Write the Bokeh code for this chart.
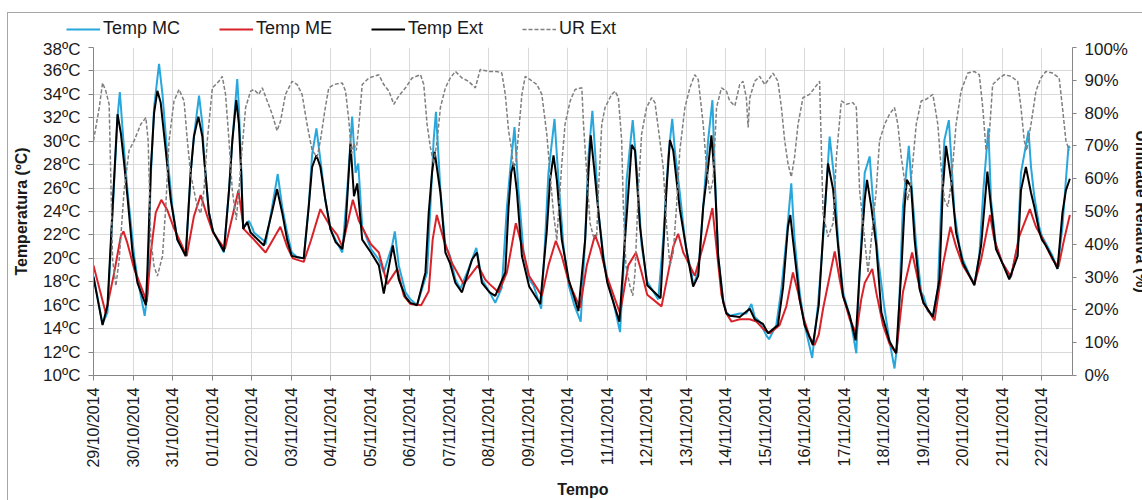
import math
from datetime import datetime, timedelta

from bokeh.plotting import figure
from bokeh.models import (Range1d, LinearAxis, FixedTicker, DatetimeTickFormatter,
                          PrintfTickFormatter, Legend, LegendItem)
from bokeh.embed import file_html
from bokeh.resources import INLINE

# ---- data: hours elapsed since 29/10/2014 00:00 and readings ----
START = datetime(2014, 10, 29)
END_HOURS = 594.6

mc_hours = [0, 5.5, 8.5, 11.6, 14.6, 16.0, 18.6, 20.6, 24.7,
            26.7, 31.1, 32.8, 34.8, 36.8, 39.8, 41.9, 44.9, 47.9,
            50.9, 55.0, 56.0, 59.0, 61.0, 64.1, 66.1, 67.1, 70.1, 72.6,
            75.2, 79.2, 82.3, 84.3, 87.3, 88.3, 89.7, 90.9, 94.4, 96.8,
            97.4, 103.5, 104.5, 108.5, 111.9, 114.6, 117.6, 120.4,
            123.7, 127.7, 130.7, 132.8, 135.4, 137.8, 140.8, 143.9,
            147.0, 151.1, 154.1, 157.1, 159.2, 160.8, 163.2, 168.5,
            173.3, 176.3, 181.4, 183.0, 185.4, 189.5, 192.5,
            196.5, 202.6, 204.6, 206.6, 208.0, 210.7, 213.7, 216.5,
            219.8, 222.8, 227.8, 232.5, 235.9, 240.6,
            244.0, 248.0, 251.1, 253.1, 255.7, 258.1, 261.2, 264.6,
            267.2, 271.9, 274.3, 276.3, 280.0, 282.4, 285.4, 288.6,
            292.0, 295.9, 298.6, 300.6, 303.0, 304.6, 306.7, 309.7, 312.1,
            315.7, 319.8, 321.8, 323.8, 327.5, 329.9, 332.9, 336.3,
            343.0, 346.0, 349.1, 351.5, 353.1, 356.1, 359.2, 360.4,
            363.2, 364.2, 367.3, 370.3, 373.3, 375.9, 377.4, 379.4, 382.4, 384.4,
            386.4, 392.5, 396.5, 399.6, 401.6, 404.6, 408.7, 410.3,
            414.7, 417.8, 420.8, 423.8, 425.8, 428.9, 431.9, 433.9, 436.5,
            440.0, 443.1, 447.1, 450.2, 452.2, 455.2, 459.3, 463.3,
            465.3, 468.4, 471.4, 473.4, 476.4, 480.1, 483.5, 486.5,
            488.5, 491.6, 495.2, 496.6, 499.7, 502.7, 504.1,
            506.7, 509.8, 512.8, 514.8, 516.8, 519.5, 520.9, 522.9, 525.9, 528.0,
            532.0, 535.0, 538.0, 540.5, 543.5, 545.1, 548.1, 552.0,
            554.2, 557.2, 561.3, 563.3, 567.9, 569.4, 571.4, 574.4, 576.0,
            578.4, 582.5, 585.5, 588.5, 590.6, 592.2, 593.0]
mc_temp = [18.5, 14.4, 15.4, 23.9, 32.1, 34.2, 29.2, 25.9, 20.2,
           18.3, 15.1, 17.0, 27.0, 32.9, 36.6, 34.0, 28.7, 24.4,
           21.6, 20.5, 20.2, 27.3, 30.4, 33.9, 31.5, 28.7, 23.9, 22.3,
           21.6, 20.5, 25.8, 30.0, 35.3, 32.9, 27.8, 22.7, 23.2, 22.5,
           22.2, 21.5, 21.2, 24.4, 27.2, 24.4, 22.2, 20.5,
           20.1, 20.0, 24.4, 28.9, 31.1, 28.4, 25.0, 22.5,
           21.6, 20.5, 25.8, 32.1, 27.3, 28.1, 22.7, 20.8,
           19.9, 18.8, 21.1, 22.3, 19.4, 17.1, 16.5,
           16.0, 18.8, 24.4, 30.1, 32.5, 25.8, 21.1, 20.2,
           18.2, 17.4, 19.1, 20.9, 18.2, 17.1,
           16.2, 17.5, 24.4, 27.6, 31.2, 25.8, 20.5, 18.2,
           17.7, 15.7, 21.6, 27.3, 31.9, 26.7, 21.1, 17.7,
           16.0, 14.6, 21.6, 28.7, 32.6, 29.2, 23.9, 20.2, 18.2,
           16.3, 13.7, 18.8, 26.7, 31.8, 27.8, 21.1, 18.0,
           16.5, 21.6, 28.7, 31.9, 29.2, 25.6, 21.6, 20.5,
           18.8, 17.7, 18.8, 24.4, 30.1, 33.5, 27.3, 20.2, 16.5, 15.4,
           15.1, 15.3, 15.3, 16.1, 15.0, 14.6, 13.4, 13.1,
           14.3, 17.4, 21.6, 26.4, 21.6, 17.1, 14.3, 13.1, 11.5,
           16.0, 21.6, 30.4, 26.4, 21.6, 17.1, 15.1, 11.9,
           18.8, 27.3, 28.7, 25.0, 20.2, 16.0, 12.9, 10.6,
           13.1, 24.4, 29.6, 26.7, 21.1, 17.1, 16.8,
           15.5, 15.1, 17.4, 24.4, 30.1, 31.8, 28.7, 23.9, 21.1, 19.9,
           18.6, 17.8, 20.2, 25.9, 31.1, 25.0, 21.1, 19.6,
           19.1, 18.4, 21.1, 27.3, 30.9, 27.8, 25.3, 22.7, 21.9,
           21.3, 20.2, 19.1, 22.7, 26.7, 29.6, 29.4]

me_hours = [0, 7.5, 12.6, 16.6, 18.2, 20.6, 24.7,
            32.4, 34.8, 37.8, 41.2, 44.9, 48.5,
            56.6, 61.0, 65.1, 69.1, 72.6,
            79.8, 88.0, 91.3, 96.8,
            104.5, 113.5, 117.6, 121.0,
            127.7, 132.0, 137.8, 144.0, 148.0,
            151.1, 157.5, 161.2, 168.5,
            173.3, 178.4, 184.5, 188.5, 192.5,
            199.0, 203.6, 206.0, 208.5, 212.7, 217.7,
            224.8, 233.5, 237.9, 240.6,
            246.0, 251.1, 256.5, 260.2, 264.6,
            272.3, 276.3, 280.8, 284.4, 288.6,
            295.5, 299.6, 304.6, 307.7, 311.7,
            319.8, 324.8, 329.5, 332.9, 336.3,
            345.0, 349.1, 352.1, 355.1, 358.2, 360.4,
            365.2, 371.3, 375.9, 378.4, 381.4, 384.4,
            387.5, 392.5, 398.6, 402.6, 406.6, 410.7,
            416.7, 420.8, 424.8, 427.9, 430.9, 434.9, 437.9,
            440.5, 443.1, 450.2, 453.2, 455.2, 459.3, 463.3,
            466.3, 468.4, 473.0, 475.4, 479.5, 483.5, 487.5,
            491.6, 497.2, 500.7, 504.1,
            510.8, 515.8, 520.5, 523.9, 528.0,
            535.0, 539.1, 544.5, 547.1, 552.0,
            557.2, 562.3, 568.7, 572.4, 576.0,
            582.5, 586.1, 589.5, 593.0]
me_temp = [19.4, 15.3, 18.8, 21.9, 22.3, 21.3, 19.1,
           16.3, 20.5, 23.9, 25.0, 24.1, 22.7,
           20.2, 23.6, 25.4, 23.6, 22.2,
           20.8, 25.8, 22.5, 21.7,
           20.5, 22.7, 21.0, 20.0,
           19.7, 21.5, 24.2, 22.7, 22.0,
           21.0, 25.0, 23.2, 21.2,
           20.5, 17.8, 19.1, 16.8, 16.1,
           16.0, 17.2, 21.6, 23.7, 21.6, 19.6,
           17.8, 19.4, 18.2, 17.8,
           17.1, 18.8, 23.0, 21.1, 18.5,
           16.8, 19.4, 21.5, 20.2, 18.0,
           15.8, 19.4, 22.0, 20.8, 18.5,
           15.3, 19.4, 20.5, 18.8, 16.9,
           15.9, 18.8, 21.0, 22.1, 20.5, 19.9,
           18.5, 21.6, 24.3, 20.9, 16.9, 15.3,
           14.6, 14.8, 14.8, 14.6, 14.0, 13.6,
           14.3, 15.9, 18.8, 17.1, 15.1, 13.3, 12.6,
           13.5, 15.7, 20.6, 18.2, 16.8, 14.8, 13.6,
           16.5, 17.9, 19.1, 17.1, 14.3, 12.7, 11.9,
           17.1, 20.5, 18.2, 16.2,
           14.7, 19.4, 22.7, 21.0, 19.4,
           17.8, 19.9, 23.7, 21.6, 19.6,
           18.4, 21.9, 24.2, 22.7, 21.8,
           19.9, 19.3, 21.6, 23.7]

ext_hours = [0, 5.5, 8.5, 12.6, 14.6, 16.6, 18.6, 20.6, 23.7,
             26.7, 31.8, 32.8, 34.8, 36.8, 38.8, 40.8, 43.9, 46.9,
             50.9, 56.0, 59.0, 61.0, 63.7, 66.1, 67.1, 70.1, 72.6,
             79.2, 82.3, 84.3, 86.7, 88.3, 89.7, 90.9, 93.4, 95.4,
             103.5, 108.5, 111.5, 114.6, 117.6, 120.4,
             127.7, 130.7, 132.8, 135.4, 137.8, 140.8, 143.9,
             147.0, 151.1, 153.1, 156.1, 158.2, 160.2, 163.2, 168.5,
             173.3, 176.3, 181.8, 185.4, 189.5, 192.5,
             196.5, 201.6, 203.6, 205.6, 207.2, 210.7, 213.7, 216.5,
             219.8, 223.8, 229.9, 232.9, 235.9, 240.6,
             244.0, 250.1, 252.1, 253.7, 255.1, 257.1, 260.2, 264.6,
             271.3, 275.3, 277.3, 279.4, 281.4, 284.4, 288.6,
             294.5, 298.6, 300.6, 302.0, 304.0, 306.7, 309.7, 312.1,
             319.4, 322.8, 326.9, 328.9, 331.9, 336.3,
             344.4, 348.1, 350.1, 352.1, 356.1, 360.4,
             364.2, 367.3, 370.3, 373.3, 375.3, 377.4, 379.4, 382.4, 384.4,
             386.4, 392.5, 398.6, 401.6, 406.6, 409.7,
             415.7, 418.8, 421.8, 423.2, 424.8, 428.9, 431.9, 436.9,
             440.5, 443.1, 446.1, 449.2, 452.2, 455.2, 459.3, 462.9,
             465.3, 468.4, 469.8, 472.4, 475.4, 478.5, 483.5, 487.5,
             490.6, 492.6, 494.0, 496.6, 498.7, 501.7, 504.1,
             509.8, 513.8, 515.8, 517.8, 520.9, 523.9, 528.0,
             535.0, 539.1, 541.1, 542.9, 545.1, 548.1, 552.0,
             556.2, 561.3, 563.3, 566.3, 569.4, 571.4, 574.4, 576.0,
             578.4, 582.5, 585.5, 588.5, 590.6, 593.0]
ext_temp = [18.4, 14.3, 16.0, 27.0, 32.3, 30.7, 28.1, 25.3, 20.5,
            17.9, 16.0, 19.2, 27.6, 32.4, 34.3, 33.3, 29.2, 25.0,
            21.6, 20.2, 27.3, 30.4, 32.1, 30.4, 28.7, 23.9, 22.3,
            20.6, 25.8, 30.0, 33.5, 31.5, 27.3, 22.5, 23.1, 22.2,
            21.1, 24.0, 25.9, 23.9, 21.6, 20.2,
            20.0, 24.4, 27.8, 28.8, 27.8, 25.0, 22.5,
            21.4, 20.8, 22.7, 29.8, 25.3, 26.4, 21.6, 20.5,
            19.4, 17.0, 21.1, 18.2, 16.7, 16.2,
            16.0, 18.8, 23.9, 27.3, 29.1, 25.6, 20.5, 19.6,
            17.9, 17.1, 19.9, 20.5, 17.9, 17.1,
            16.8, 18.8, 24.4, 27.3, 28.1, 25.8, 20.2, 17.6,
            16.1, 22.3, 26.7, 28.8, 26.7, 21.6, 18.2,
            15.5, 21.6, 27.3, 30.5, 27.8, 23.9, 19.9, 17.9,
            14.6, 21.6, 29.7, 29.2, 22.7, 17.7,
            16.6, 26.1, 30.1, 29.2, 24.2, 20.5,
            17.6, 18.5, 24.4, 27.8, 30.5, 26.7, 20.2, 16.3, 15.3,
            15.1, 15.0, 15.7, 14.8, 14.4, 13.6,
            14.3, 17.5, 22.7, 23.7, 21.6, 16.5, 14.3, 12.6,
            16.0, 22.0, 28.1, 25.9, 21.1, 16.8, 15.1, 13.0,
            18.8, 25.0, 26.7, 24.4, 21.1, 15.4, 12.9, 11.9,
            18.8, 24.4, 26.7, 26.1, 21.6, 17.4, 16.2,
            15.0, 18.2, 25.8, 29.6, 26.7, 22.2, 19.6,
            17.7, 21.1, 24.4, 27.4, 24.4, 20.8, 19.6,
            18.2, 20.2, 25.8, 27.8, 25.6, 24.4, 22.3, 21.6,
            21.1, 20.0, 19.1, 23.9, 25.8, 26.8]

ur_hours = [0, 3.5, 5.5, 7.5, 9.5, 10.9, 11.6, 13.6, 15.6, 18.6, 21.6,
            24.7, 28.7, 31.8, 33.2, 34.8, 36.8, 38.8, 41.9, 43.9, 45.9,
            48.9, 52.0, 55.0, 57.0, 59.0, 63.0, 65.1, 67.1, 69.1,
            72.2, 76.2, 78.2, 80.2, 82.3, 84.3, 86.7, 88.3, 90.3, 92.4, 95.4,
            97.4, 100.4, 102.5, 105.5, 108.5, 111.5, 113.6, 116.6,
            120.6, 123.7, 126.7, 129.7, 132.8, 135.8, 137.8, 140.8, 142.9,
            145.9, 151.1, 153.1, 155.1, 156.7, 158.2, 159.6, 161.2, 163.2, 167.2,
            173.3, 176.3, 179.4, 182.4, 185.4, 189.5, 193.5,
            198.6, 200.6, 202.6, 204.6, 206.6, 208.7, 210.7, 213.7, 216.7,
            219.8, 223.8, 227.8, 231.9, 234.9, 240.0,
            245.0, 248.0, 250.1, 252.1, 253.7, 255.1, 256.5, 258.1, 260.2, 262.2,
            265.2, 269.3, 272.3, 275.3, 277.3, 279.4, 281.4, 282.4, 284.4, 286.4, 289.5,
            292.5, 296.6, 297.6, 299.6, 301.6, 303.6, 305.6, 306.7, 308.7, 310.7,
            314.7, 316.8, 318.8, 320.8, 321.8, 323.4, 325.8, 327.5, 328.9, 330.9, 332.9, 335.9,
            339.0, 341.0, 344.0, 346.0, 348.1, 350.1, 352.1, 354.1, 356.1, 359.2,
            362.2, 365.2, 367.3, 370.3, 372.3, 374.3, 376.3, 378.4, 381.4, 384.4,
            386.4, 389.5, 392.5, 394.5, 396.5, 397.6, 398.6, 401.6, 404.6, 407.7,
            410.7, 412.7, 415.7, 417.8, 419.8, 421.8, 423.8, 425.8, 427.9, 430.9, 434.9, 438.0, 441.0,
            443.1, 446.1, 449.2, 451.2, 454.2, 457.2, 461.3,
            463.3, 465.3, 468.4, 470.4, 472.4, 475.4, 477.4, 480.5, 483.5, 486.5,
            488.5, 490.6, 492.6, 494.6, 496.6, 499.7, 502.7, 505.7, 509.8,
            512.8, 514.8, 516.8, 518.9, 520.9, 523.9, 526.9, 531.0,
            535.0, 538.0, 540.1, 542.1, 544.1, 546.1, 550.2, 553.2,
            557.2, 561.3, 563.3, 565.3, 566.7, 569.4, 572.4, 575.4, 578.4,
            582.5, 586.5, 588.5, 590.6, 592.6]
ur_pct = [71.6, 81.7, 89.2, 86.7, 82.7, 51.5, 35.3, 27.3, 35.3, 56.5, 68.6,
          71.6, 76.6, 78.6, 71.6, 41.4, 33.3, 30.3, 36.4, 51.5, 71.6,
          83.7, 87.2, 83.7, 71.6, 61.5, 51.5, 49.4, 56.5, 71.6,
          87.7, 89.7, 91.2, 85.7, 71.6, 56.5, 47.4, 56.5, 69.6, 81.7, 86.7,
          87.2, 85.7, 87.7, 83.7, 79.7, 74.6, 77.6, 85.7,
          89.7, 88.7, 85.7, 76.6, 68.6, 66.6, 71.6, 81.7, 87.7,
          88.7, 89.2, 86.7, 77.6, 67.6, 70.7, 68.6, 76.6, 88.7, 90.7,
          91.7, 88.7, 86.7, 82.7, 85.2, 87.7, 90.7,
          91.7, 88.7, 76.6, 69.6, 64.6, 71.6, 81.7, 87.7, 90.7,
          92.7, 90.7, 89.7, 87.7, 93.3, 92.7,
          92.7, 92.2, 85.7, 74.6, 69.6, 63.5, 64.5, 73.6, 85.7, 91.2,
          90.2, 88.7, 85.7, 73.6, 61.5, 49.4, 41.3, 49.4, 64.5, 76.6, 83.7,
          87.2, 87.7, 76.6, 61.5, 46.4, 42.4, 42.4, 56.5, 76.6, 81.7,
          85.7, 86.7, 84.7, 71.6, 51.5, 33.3, 27.3, 24.3, 31.3, 56.5, 73.6, 81.7,
          84.7, 83.2, 71.6, 63.5, 45.4, 33.3, 37.5, 51.5, 68.6, 81.7,
          87.7, 91.7, 90.2, 76.6, 63.5, 55.5, 59.5, 81.7, 87.7, 86.7,
          83.7, 82.2, 88.7, 89.7, 84.7, 75.6, 84.7, 89.7, 91.2, 88.7,
          90.7, 92.2, 89.7, 81.7, 71.6, 64.6, 60.5, 66.6, 76.6, 84.7, 85.7, 87.7, 89.7,
          49.4, 42.3, 46.4, 66.6, 83.7, 82.7, 83.2,
          81.7, 56.5, 41.3, 31.3, 41.3, 56.5, 71.6, 76.6, 79.7, 81.7,
          76.6, 66.6, 59.4, 53.5, 59.5, 76.6, 83.7, 84.2, 85.7,
          76.6, 63.5, 53.5, 51.5, 58.4, 76.6, 86.7, 92.2,
          92.7, 91.7, 81.7, 68.6, 73.6, 88.7, 90.7, 91.7,
          91.2, 89.7, 81.7, 71.6, 68.6, 76.6, 86.7, 90.7, 92.7,
          92.2, 90.7, 81.7, 71.6, 68.6]

series_names = ["Temp MC", "Temp ME", "Temp Ext", "UR Ext"]
temp_ticks = list(range(10, 39, 2))
ur_ticks = list(range(0, 101, 10))
n_days = 24

FONT = "Liberation Sans"
AXIS_GREY = "#868686"
GRID_GREY = "#d9d9d9"
FRAME_GREY = "#a6a6a6"
TEXT = "#1a1a1a"
STYLES = [dict(line_color="#27A7DC", line_width=2),
          dict(line_color="#D9232B", line_width=2),
          dict(line_color="#000000", line_width=2),
          dict(line_color="#7f7f7f", line_width=1.5, line_dash="4 2")]


def as_time(hours):
    return [START + timedelta(hours=h) for h in hours]


def epoch_ms(dt):
    return (dt - datetime(1970, 1, 1)).total_seconds() * 1000.0


day_ticks = [epoch_ms(START + timedelta(days=d)) for d in range(n_days + 1)]
time_range = Range1d(START, START + timedelta(hours=END_HOURS))
series = [(mc_hours, mc_temp), (me_hours, me_temp),
          (ext_hours, ext_temp), (ur_hours, ur_pct)]

# ---------------- main chart ----------------
# a little wider than the page, so the right-hand title runs off the edge
p = figure(width=1145, height=461, x_axis_type="datetime",
           output_backend="svg", toolbar_location=None,
           x_range=time_range, y_range=Range1d(10, 38),
           min_border_left=86, min_border_right=77,
           min_border_top=8, min_border_bottom=123)
p.outline_line_color = None
p.background_fill_color = "white"
p.border_fill_alpha = 0
p.styles = {"margin-left": "7px", "background-color": "white",
            "box-shadow": "inset 1px 0 0 0 " + FRAME_GREY}

# secondary axis for relative humidity
p.extra_y_ranges = {"ur": Range1d(0, 100)}
ur_axis = LinearAxis(y_range_name="ur", ticker=FixedTicker(ticks=ur_ticks),
                     formatter=PrintfTickFormatter(format="%d%%"))
ur_axis.axis_label = "Umidade Relativa (%)"
p.add_layout(ur_axis, "right")

# x axis: one tick per day
xa = p.xaxis[0]
xa.ticker = FixedTicker(ticks=day_ticks)
xa.formatter = DatetimeTickFormatter(days="%d/%m/%Y", hours="%d/%m/%Y",
                                     months="%d/%m/%Y", years="%d/%m/%Y")
xa.major_label_orientation = math.pi / 2
xa.major_label_text_font_size = "16px"
xa.axis_label = "Tempo"

ya = p.yaxis[0]
ya.ticker = FixedTicker(ticks=temp_ticks)
ya.formatter = PrintfTickFormatter(format="%dºC")
ya.axis_label = "Temperatura (ºC)"
ya.major_label_text_font_size = "17px"
ur_axis.major_label_text_font_size = "17px"

for ax in (xa, ya, ur_axis):
    ax.axis_line_color = AXIS_GREY
    ax.major_tick_line_color = AXIS_GREY
    ax.major_tick_out = 5
    ax.major_tick_in = 0
    ax.minor_tick_line_color = None
    ax.major_label_text_font = FONT
    ax.major_label_text_color = TEXT
    ax.axis_label_text_font = FONT
    ax.axis_label_text_font_style = "bold"
    ax.axis_label_text_font_size = "16px"
    ax.axis_label_text_color = TEXT
xa.major_label_standoff = 7
ya.major_label_standoff = 8
ur_axis.major_tick_out = 4
ur_axis.major_label_standoff = 8
ur_axis.axis_label_standoff = 2
ya.axis_label_standoff = 10
xa.axis_label_standoff = 10

p.xgrid.ticker = FixedTicker(ticks=day_ticks)
p.ygrid.ticker = FixedTicker(ticks=temp_ticks)
for g in (p.xgrid[0], p.ygrid[0]):
    g.grid_line_color = GRID_GREY
    g.grid_line_width = 1

for (hours, vals), style in zip(series[:3], STYLES[:3]):
    p.line(as_time(hours), vals, **style)
p.line(as_time(ur_hours), ur_pct, y_range_name="ur", **STYLES[3])

# ---------------- legend strip above the chart ----------------
# same series, drawn outside this strip's visible range so only the key shows
key = figure(width=1135, height=27, x_axis_type=None, y_axis_type=None,
             output_backend="svg", toolbar_location=None,
             x_range=time_range, y_range=Range1d(100, 101),
             min_border_left=0, min_border_right=0,
             min_border_top=0, min_border_bottom=0)
key.outline_line_color = None
key.background_fill_alpha = 0
key.border_fill_alpha = 0
key.styles = {"margin-left": "7px", "margin-top": "12px", "background-color": "white",
              "box-shadow": "inset 1px 1px 0 0 " + FRAME_GREY}
swatches = [key.line(as_time(hours), vals, **style)
            for (hours, vals), style in zip(series, STYLES)]

legend = Legend(items=[LegendItem(label=name, renderers=[r])
                       for name, r in zip(series_names, swatches)],
                orientation="horizontal", location=(59, 0),
                label_text_font=FONT, label_text_font_size="18px",
                label_text_color=TEXT, glyph_width=34, glyph_height=14,
                label_height=14, label_standoff=3, spacing=39,
                padding=0, margin=0,
                border_line_color=None, background_fill_alpha=0)
key.add_layout(legend)

open("out.html", "w").write(file_html([key, p], INLINE))
